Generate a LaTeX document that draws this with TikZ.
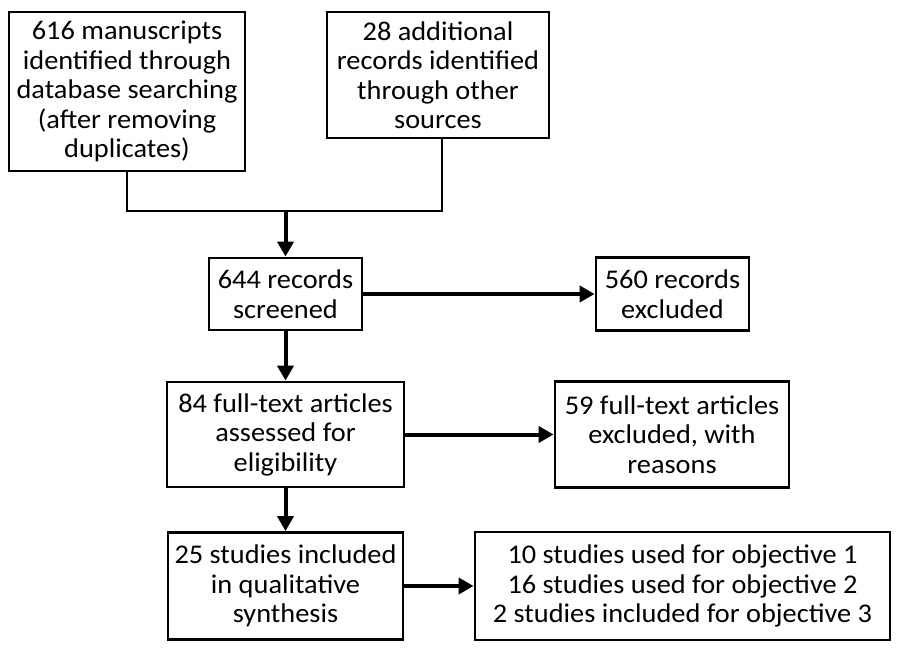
\documentclass[tikz,border=0pt]{standalone}
\usepackage{fontspec}
\setmainfont{Carlito}[FakeStretch=1.05]
\usetikzlibrary{arrows.meta}
\tikzset{
  box/.style={draw, line width=2.8pt, align=center, inner sep=0pt,
    font=\fontsize{27}{29.5}\selectfont},
  link/.style={line width=2.6pt},
  arr/.style={line width=4pt, -{Triangle[length=15pt,width=16pt]}}
}
\begin{document}
\begin{tikzpicture}[x=1pt,y=-1pt]
\useasboundingbox (0,0) rectangle (900,655);
\node[box, minimum width=236pt, minimum height=159pt] (b1) at (127,91.5)
  {616 manuscripts\\identified through\\database searching\\(after removing\\duplicates)};
\node[box, minimum width=222pt, minimum height=126pt] (b2) at (438,75)
  {28 additional\\records identified\\through other\\sources};
\node[box, minimum width=153pt, minimum height=72pt] (b3) at (285.5,294)
  {644 records\\screened};
\node[box, minimum width=153pt, minimum height=73pt] (b4) at (672.5,294)
  {560 records\\excluded};
\node[box, minimum width=237pt, minimum height=105pt] (b5) at (285.5,434.5)
  {84 full-text articles\\assessed for\\eligibility};
\node[box, minimum width=234pt, minimum height=106pt] (b6) at (672,434.5)
  {59 full-text articles\\excluded, with\\reasons};
\node[box, minimum width=235pt, minimum height=107pt] (b7) at (285.5,586)
  {25 studies included\\in qualitative\\synthesis};
\node[box, minimum width=415pt, minimum height=108pt] (b8) at (682.5,586)
  {10 studies used for objective 1\\16 studies used for objective 2\\2 studies included for objective 3};
\coordinate (j) at (285.5,211);
\draw[link] (b1.south) -- (b1.south |- j) -- ([xshift=4pt]b2.south |- j) -- ([xshift=4pt]b2.south);
\draw[arr] (j) -- (b3.north);
\draw[arr] (b3.east) -- (b4.west);
\draw[arr] (b3.south) -- (b5.north);
\draw[arr] (b5.east) -- (b6.west);
\draw[arr] (b5.south) -- (b7.north);
\draw[arr] (b7.east) -- (b8.west);
\end{tikzpicture}
\end{document}
